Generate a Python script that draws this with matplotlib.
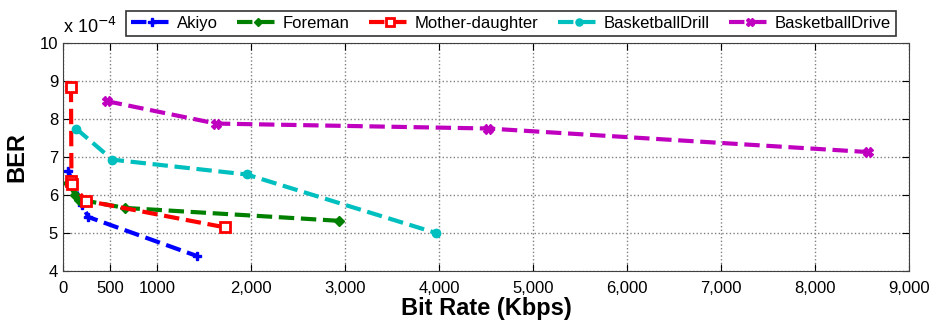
import matplotlib
matplotlib.use("Agg")
import matplotlib.pyplot as plt

plt.rcParams['font.family'] = ['Liberation Sans', 'DejaVu Sans']

# Data (BER in units of 1e-4, bit rate in Kbps)
akiyo_x = [56, 200, 270, 1430]
akiyo_y = [6.62, 5.75, 5.42, 4.39]

foreman_x = [55, 130, 170, 660, 2940]
foreman_y = [6.32, 6.00, 5.88, 5.66, 5.32]

mother_x = [85, 90, 95, 240, 1720]
mother_y = [8.85, 6.38, 6.30, 5.85, 5.15]

drill_x = [138, 525, 1954, 3968]
drill_y = [7.75, 6.93, 6.54, 5.00]

drive_x = [465, 1628, 4521, 8564]
drive_y = [8.47, 7.88, 7.75, 7.13]

series_names = ['Akiyo', 'Foreman', 'Mother-daughter', 'BasketballDrill', 'BasketballDrive']
xticks = [0, 500, 1000, 2000, 3000, 4000, 5000, 6000, 7000, 8000, 9000]
xtick_labels = ['0', '500', '1000', '2,000', '3,000', '4,000', '5,000', '6,000', '7,000', '8,000', '9,000']
yticks = [4, 5, 6, 7, 8, 9, 10]

fig = plt.figure(figsize=(9.38, 3.22), dpi=100)
ax = fig.add_axes([63/938, 1-271/322, (909-63)/938, (271-43)/322])

lw = 3
ax.plot(akiyo_x, akiyo_y, '--', color='#0000ff', marker='P', ms=6, lw=lw, label=series_names[0])
ax.plot(foreman_x, foreman_y, '--', color='#008000', marker='D', ms=5, lw=lw, label=series_names[1])
ax.plot(mother_x, mother_y, '--', color='#ff0000', marker='s', ms=7, mfc='white', mew=2, lw=lw, label=series_names[2])
ax.plot(drill_x, drill_y, '--', color='#00bfbf', marker='o', ms=6, lw=lw, label=series_names[3])
ax.plot(drive_x, drive_y, '--', color='#bf00bf', marker='X', ms=7, lw=lw, label=series_names[4])

ax.set_xlim(0, 9000)
ax.set_ylim(4, 10)
ax.set_xticks(xticks)
ax.set_xticklabels(xtick_labels)
ax.set_yticks(yticks)
ax.tick_params(direction='in', top=True, right=True, labelsize=12, length=5)
ax.tick_params(axis='x', pad=7)
ax.grid(True, linestyle=':', color='#808080', lw=1)
for s in ax.spines.values():
    s.set_color('#404040')

ax.set_xlabel('Bit Rate (Kbps)', fontsize=17, fontweight='bold', labelpad=1)
ax.set_ylabel('BER', fontsize=17, fontweight='bold', labelpad=8)
fig.text(63/938, 1-33/322, r'x 10$^{-4}$', fontsize=13, ha='left', va='baseline')

leg = fig.legend(loc='upper center', bbox_to_anchor=(511/938, 1-3/322), ncol=5, fontsize=12,
                 frameon=True, fancybox=False, edgecolor='black', handlelength=2.5,
                 handletextpad=0.25, columnspacing=1.15, borderpad=0.3, markerscale=0.85)
leg.get_frame().set_linewidth(1.2)

fig.savefig('out.png', dpi=100)
